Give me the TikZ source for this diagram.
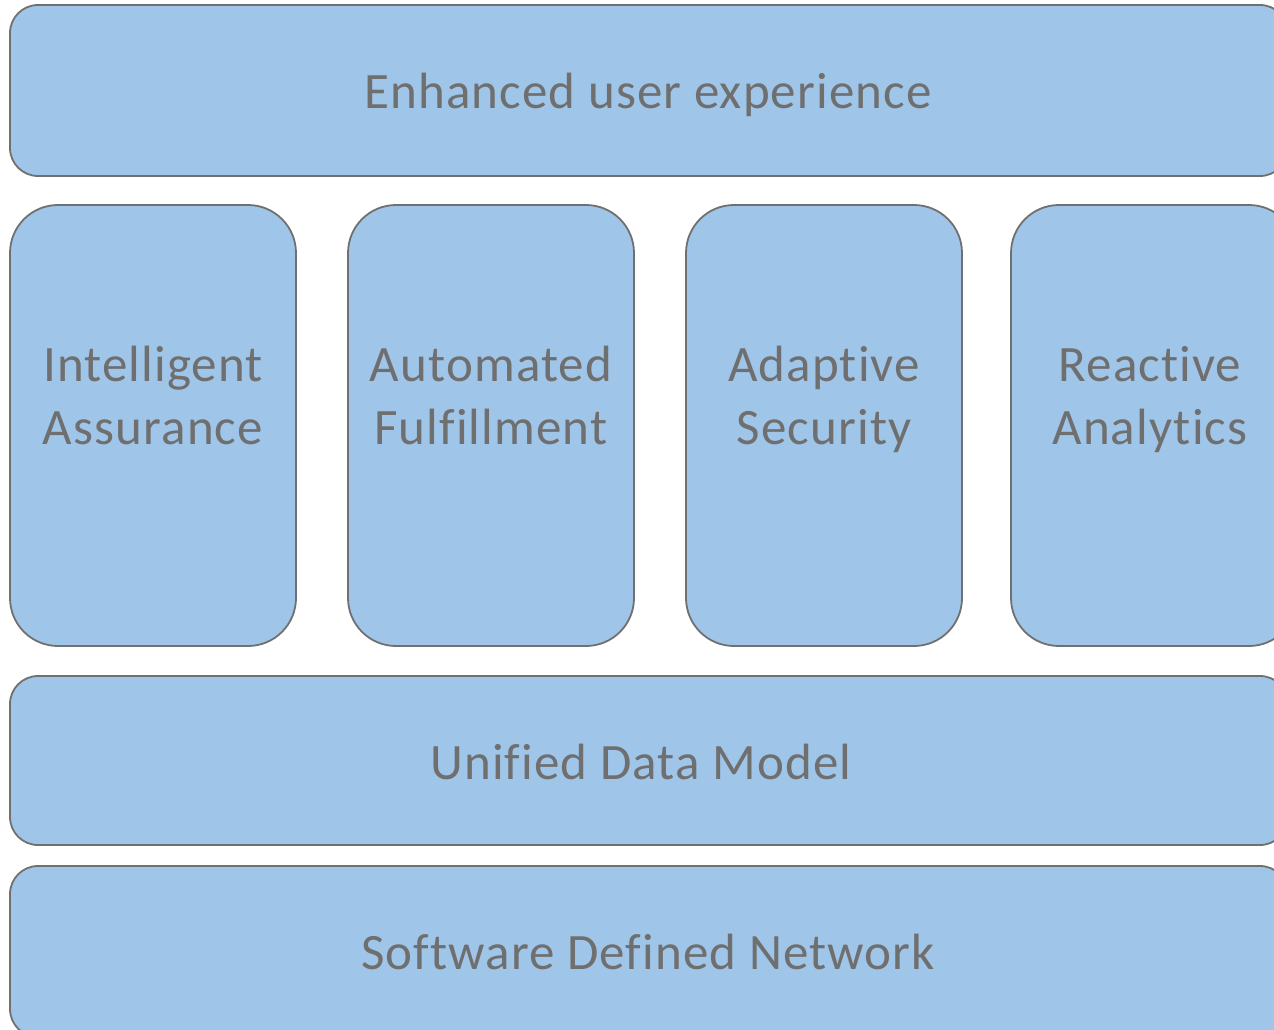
\documentclass[tikz,border=0pt]{standalone}
\usepackage{fontspec}
\setmainfont[Ligatures={NoCommon,NoRare},LetterSpace=2.2]{Carlito}
\definecolor{boxfill}{HTML}{9FC5E8}
\definecolor{boxline}{HTML}{707070}
\definecolor{txt}{HTML}{6F6F6F}
\begin{document}
\begin{tikzpicture}[x=1pt,y=-1pt,
  layer/.style={draw=boxline,fill=boxfill,line width=1.8pt,rounded corners=28pt,
    minimum width=1278pt,minimum height=171pt,inner sep=0pt,outer sep=0pt},
  column/.style={draw=boxline,fill=boxfill,line width=1.8pt,rounded corners=48pt,
    minimum height=441pt,inner sep=0pt,outer sep=0pt},
  label/.style={text=txt,font=\fontsize{51}{63}\selectfont,align=center,inner sep=0pt}]
\useasboundingbox (0,0) rectangle (1274,1030);
\clip (0,0) rectangle (1274,1030);
\node[layer] (top) at (649,90.5) {};
\node[label] (toptxt) at (648,96) {\strut Enhanced user experience};
\node[column,minimum width=286pt] (c1) at (153,425.5) {};
\node[column,minimum width=286pt] (c2) at (491,425.5) {};
\node[column,minimum width=276pt] (c3) at (824,425.5) {};
\node[column,minimum width=286pt] (c4) at (1154,425.5) {};
\node[label] (t1) at (153,400) {\strut Intelligent\\\strut Assurance};
\node[label] (t2) at (491,400) {\strut Automated\\\strut Fulfillment};
\node[label] (t3) at (824,400) {\strut Adaptive\\\strut Security};
\node[label] (t4) at (1150,400) {\strut Reactive\\\strut Analytics};
\node[layer,minimum height=169pt] (udm) at (649,760.5) {};
\node[label] (udmtxt) at (641,767) {\strut Unified Data Model};
\node[layer] (sdn) at (649,951.5) {};
\node[label] (sdntxt) at (648,957) {\strut Software Defined Network};
\end{tikzpicture}
\end{document}
